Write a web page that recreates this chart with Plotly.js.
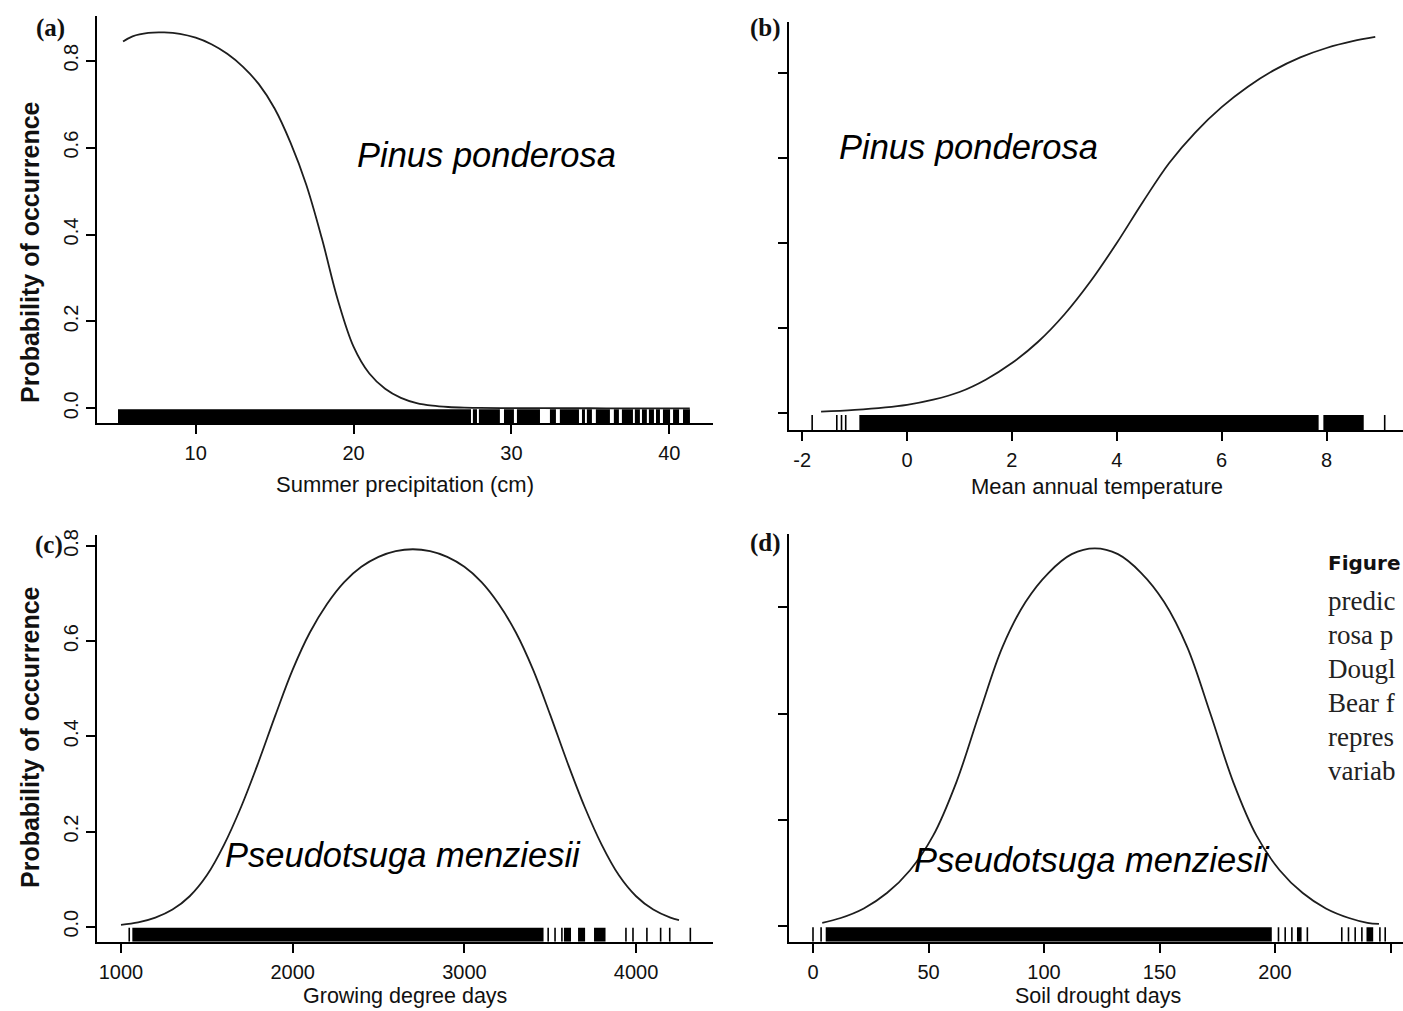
<!DOCTYPE html>
<html><head><meta charset="utf-8">
<script src="https://cdn.plot.ly/plotly-3.0.1.min.js"></script>
<style>html,body{margin:0;padding:0;overflow:hidden;background:#fff}#chart{width:1403px;height:1011px}</style>
</head><body><div id="chart"></div>
<script>
// ---------- Panel (a): Pinus ponderosa vs summer precipitation ----------
const precipX = [5.4, 6, 7, 8, 9, 10, 11, 12, 13, 14, 15, 16, 17, 18, 19, 20, 21, 22, 23, 24, 25, 26, 27, 28, 30, 32, 35, 38, 41.3];
const precipP = [0.844, 0.856, 0.864, 0.865, 0.862, 0.853, 0.838, 0.816, 0.786, 0.746, 0.69, 0.612, 0.515, 0.39, 0.25, 0.142, 0.08, 0.045, 0.024, 0.012, 0.006, 0.003, 0.0015, 0.001, 0.0005, 0.0002, 0.0001, 0, 0];
const precipRugStart = [5.08, 27.56, 27.94, 29.53, 30.35, 32.44, 33.07, 34.47, 34.78, 35.35, 36.49, 37.0, 37.82, 38.27, 38.71, 39.16, 39.6, 40.24, 40.87];
const precipRugEnd   = [27.44, 27.82, 29.27, 30.16, 31.81, 32.82, 34.28, 34.66, 35.1, 36.24, 36.81, 37.7, 38.14, 38.58, 39.03, 39.41, 40.05, 40.62, 41.31];
const precipRugTicks = [];
const precipTicks = [10, 20, 30, 40];

// ---------- Panel (b): Pinus ponderosa vs mean annual temperature ----------
const tempX = [-1.64, -1, 0, 0.5, 1, 1.5, 2, 2.5, 3, 3.5, 4, 4.5, 5, 5.5, 6, 6.5, 7, 7.5, 8, 8.5, 8.93];
const tempP = [0.004, 0.008, 0.02, 0.032, 0.05, 0.079, 0.118, 0.168, 0.232, 0.31, 0.40, 0.497, 0.588, 0.66, 0.719, 0.767, 0.806, 0.836, 0.858, 0.874, 0.884];
const tempRugStart = [-0.91, 7.94];
const tempRugEnd   = [7.85, 8.71];
const tempRugTicks = [-1.81, -1.34, -1.25, -1.17, 9.11];
const tempTicks = [-2, 0, 2, 4, 6, 8];

// ---------- Panel (c): Pseudotsuga menziesii vs growing degree days ----------
const gddX = [1000, 1100, 1200, 1300, 1400, 1500, 1600, 1700, 1800, 1900, 2000, 2100, 2200, 2300, 2400, 2500, 2600, 2700, 2800, 2900, 3000, 3100, 3200, 3300, 3400, 3500, 3600, 3700, 3800, 3900, 4000, 4100, 4200, 4250];
const gddP = [0.004, 0.009, 0.019, 0.036, 0.064, 0.108, 0.172, 0.252, 0.345, 0.445, 0.54, 0.618, 0.678, 0.724, 0.756, 0.777, 0.789, 0.793, 0.789, 0.777, 0.756, 0.724, 0.678, 0.618, 0.54, 0.445, 0.345, 0.252, 0.172, 0.108, 0.064, 0.036, 0.019, 0.014];
const gddRugStart = [1066, 3580, 3662, 3755];
const gddRugEnd   = [3461, 3621, 3703, 3822];
const gddRugTicks = [1048, 3488, 3528, 3568, 3941, 3982, 4063, 4143, 4196, 4316];
const gddTicks = [1000, 2000, 3000, 4000];

// ---------- Panel (d): Pseudotsuga menziesii vs soil drought days ----------
const droughtX = [4, 12, 22, 32, 42, 52, 62, 72, 82, 92, 102, 112, 122, 132, 142, 152, 162, 172, 182, 192, 202, 212, 222, 232, 240, 245];
const droughtP = [0.006, 0.015, 0.033, 0.062, 0.105, 0.17, 0.27, 0.40, 0.525, 0.61, 0.665, 0.70, 0.711, 0.70, 0.665, 0.61, 0.525, 0.40, 0.27, 0.17, 0.105, 0.062, 0.033, 0.015, 0.006, 0.004];
const droughtRugStart = [5.5, 209.5, 239.6];
const droughtRugEnd   = [198.6, 211.5, 242.5];
const droughtRugTicks = [0, 3.5, 201.5, 204.4, 207.3, 214, 228.9, 231.8, 234.7, 237.6, 245.4, 247.7];
const droughtTicks = [0, 50, 100, 150, 200, 250];

const probTicks = [0, 0.2, 0.4, 0.6, 0.8];
const probTicksD = [0, 0.2, 0.4, 0.6];

// ---------- text ----------
const panelLabels = ["(a)", "(b)", "(c)", "(d)"];
const speciesLabels = ["Pinus ponderosa", "Pinus ponderosa", "Pseudotsuga menziesii", "Pseudotsuga menziesii"];
const xTitles = ["Summer precipitation (cm)", "Mean annual temperature", "Growing degree days", "Soil drought days"];
const yTitle = "Probability of occurrence";
const captionLines = ["Figure", "predic", "rosa p", "Dougl", "Bear f", "repres", "variab"];

// ---------- geometry (pixels) ----------
const W = 1403, H = 1011;
const fx = p => p / W;
const fy = p => 1 - p / H;

const panels = [
  {xs: precipX, ys: precipP, rs: precipRugStart, re: precipRugEnd, rt: precipRugTicks, xt: precipTicks, yt: probTicks,
   left: 97.3, right: 713, top: 16, bottom: 423.3, xr: [3.768, 42.77], yr: [-0.0345, 0.9029], ylab: true, rug: 14},
  {xs: tempX, ys: tempP, rs: tempRugStart, re: tempRugEnd, rt: tempRugTicks, xt: tempTicks, yt: probTicks,
   left: 789.3, right: 1403, top: 21.7, bottom: 430, xr: [-2.246, 9.459], yr: [-0.0392, 0.9198], ylab: false, rug: 15},
  {xs: gddX, ys: gddP, rs: gddRugStart, re: gddRugEnd, rt: gddRugTicks, xt: gddTicks, yt: probTicks,
   left: 97.3, right: 713, top: 535, bottom: 941.7, xr: [862, 4448], yr: [-0.0315, 0.8229], ylab: true, rug: 14},
  {xs: droughtX, ys: droughtP, rs: droughtRugStart, re: droughtRugEnd, rt: droughtRugTicks, xt: droughtTicks, yt: probTicksD,
   left: 789.3, right: 1403, top: 534.3, bottom: 941.7, xr: [-10.26, 255.4], yr: [-0.0296, 0.7374], ylab: false, rug: 14.5}
];

const tickFont = {family: "Liberation Sans, Arial, sans-serif", size: 20, color: "#111"};
const traces = [];
const layout = {
  width: W, height: H, margin: {l: 0, r: 0, t: 0, b: 0},
  paper_bgcolor: "white", plot_bgcolor: "white", showlegend: false,
  barmode: "overlay", annotations: []
};

panels.forEach((p, i) => {
  const n = i === 0 ? "" : String(i + 1);
  const xa = "x" + n, ya = "y" + n;
  const upp = (p.yr[1] - p.yr[0]) / (p.bottom - p.top);
  const rugC = p.yr[0] + p.rug / 2 * upp;
  const rugW = p.rug * upp;
  traces.push({type: "scatter", mode: "lines", x: p.xs, y: p.ys, xaxis: xa, yaxis: ya,
    line: {color: "#1e1e1e", width: 1.8, shape: "spline", smoothing: 1}, hoverinfo: "skip"});
  traces.push({type: "bar", orientation: "h", base: p.rs, x: p.re.map((e, k) => e - p.rs[k]),
    y: p.rs.map(() => rugC), width: rugW, xaxis: xa, yaxis: ya,
    marker: {color: "black", line: {width: 0}}, hoverinfo: "skip"});
  if (p.rt.length) traces.push({type: "scatter", mode: "markers", x: p.rt, y: p.rt.map(() => rugC), xaxis: xa, yaxis: ya,
    marker: {symbol: "line-ns-open", size: p.rug / 1.4, color: "black", line: {color: "black", width: 1.6}}, hoverinfo: "skip"});

  layout["xaxis" + n] = {domain: [fx(p.left), fx(p.right)], range: p.xr, anchor: ya,
    showline: true, linecolor: "black", linewidth: 2, ticks: "outside", ticklen: 9, tickwidth: 2, tickcolor: "black",
    tickvals: p.xt, ticktext: p.xt.map(String), tickfont: tickFont, ticklabelstandoff: 2,
    showgrid: false, zeroline: false, fixedrange: true};
  layout["yaxis" + n] = {domain: [fy(p.bottom), fy(p.top)], range: p.yr, anchor: xa,
    showline: true, linecolor: "black", linewidth: 2, ticks: "outside", ticklen: 9, tickwidth: 2, tickcolor: "black",
    tickvals: p.yt, ticktext: p.yt.map(v => v.toFixed(1)), showticklabels: p.ylab, tickangle: -90,
    tickfont: tickFont, ticklabelstandoff: 0,
    showgrid: false, zeroline: false, fixedrange: true};
});

const ann = (text, x, y, font, extra) => Object.assign({text, x: fx(x), y: fy(y), xref: "paper", yref: "paper",
  showarrow: false, xanchor: "center", yanchor: "middle", font}, extra || {});

const labelFont = {family: "Liberation Serif, Times New Roman, serif", size: 25, color: "#111", weight: "bold"};
[[50, 28], [765, 28], [49, 545], [765, 543]].forEach((c, i) =>
  layout.annotations.push(ann("<b>" + panelLabels[i] + "</b>", c[0], c[1], labelFont)));

const speciesFont = {family: "Liberation Sans, Arial, sans-serif", size: 34.5, color: "black", style: "italic"};
[[486, 155], [968, 147], [403, 855], [1092, 860]].forEach((c, i) =>
  layout.annotations.push(ann(speciesLabels[i], c[0], c[1], speciesFont)));

const xTitleFont = {family: "Liberation Sans, Arial, sans-serif", size: 22, color: "#111"};
const xTitleFont2 = {family: "Liberation Sans, Arial, sans-serif", size: 21.5, color: "#111"};
[[405, 485, xTitleFont], [1097, 487, xTitleFont], [405, 996, xTitleFont2], [1098, 996, xTitleFont2]].forEach((c, i) =>
  layout.annotations.push(ann(xTitles[i], c[0], c[1], c[2], {borderpad: 0})));

const yTitleFont = {family: "Liberation Sans, Arial, sans-serif", size: 25, color: "#111"};
[[30, 252], [30, 737]].forEach(c =>
  layout.annotations.push(ann("<b>" + yTitle + "</b>", c[0], c[1], yTitleFont, {textangle: -90})));

const captionY = [563, 601, 635, 669, 703, 737, 771];
captionLines.forEach((t, i) => {
  const font = i === 0
    ? {family: "DejaVu Sans, Liberation Sans, sans-serif", size: 20, color: "#111", weight: "bold"}
    : {family: "Liberation Serif, Times New Roman, serif", size: 27, color: "#222"};
  layout.annotations.push(ann(i === 0 ? "<b>" + t + "</b>" : t, 1326, captionY[i], font, {xanchor: "left"}));
});

Plotly.newPlot("chart", traces, layout, {staticPlot: true, displayModeBar: false});
</script>
</body></html>
